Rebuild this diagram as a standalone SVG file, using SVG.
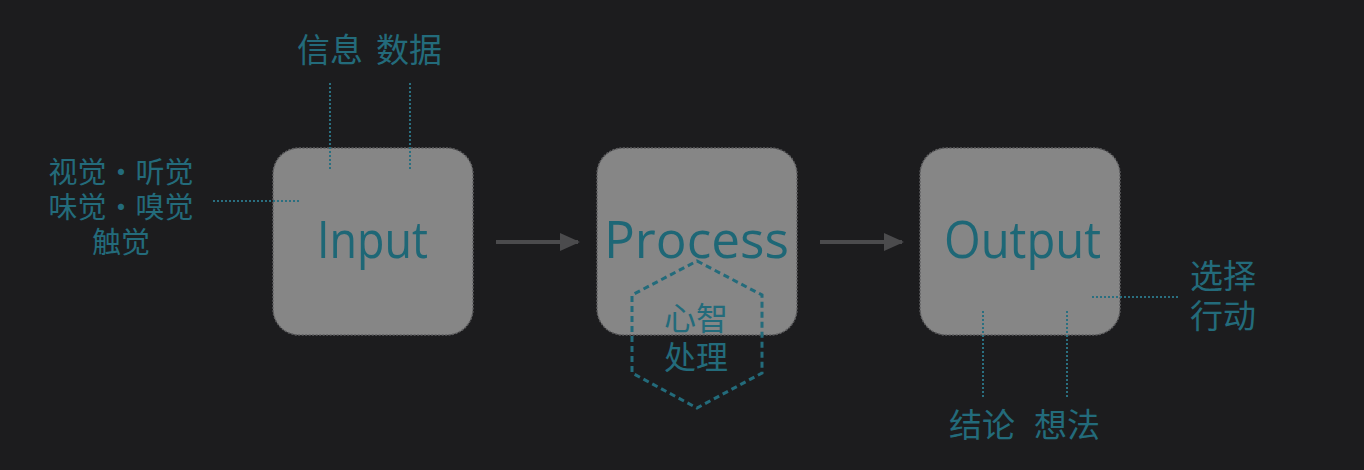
<svg xmlns="http://www.w3.org/2000/svg" width="1364" height="470" viewBox="0 0 1364 470">
<defs>
<style>
.box{fill:#868686;stroke:#5e5e60;stroke-width:1.5;stroke-dasharray:2 1.5}
.big{font-family:"Open Sans","Noto Sans",sans-serif;font-size:52px;font-weight:400;fill:#1e6776}
.cjk{font-family:"Noto Sans CJK SC",sans-serif;fill:#236b7b}
.m{text-anchor:middle}
.dot{stroke:#2a6f80;stroke-width:2;stroke-dasharray:2 2;fill:none}
.arr{stroke:#4b4b4d;stroke-width:4;fill:none}
</style>
<marker id="ah" markerWidth="20" markerHeight="20" refX="18" refY="10" orient="auto" markerUnits="userSpaceOnUse">
<path d="M0,1 L20,10 L0,19 Z" fill="#4b4b4d"/>
</marker>
</defs>
<rect width="1364" height="470" fill="#1c1c1e"/>
<g id="input">
<rect class="box" x="273" y="148" width="200" height="187" rx="26"/>
<text class="big" x="317" y="258" textLength="111" lengthAdjust="spacingAndGlyphs">Input</text>
</g>
<g id="process">
<rect class="box" x="597" y="148" width="200" height="187" rx="26"/>
<text class="big" x="604" y="258" textLength="185" lengthAdjust="spacingAndGlyphs">Process</text>
</g>
<g id="output">
<rect class="box" x="920" y="148" width="200" height="187" rx="26"/>
<text class="big" x="944" y="258" textLength="157" lengthAdjust="spacingAndGlyphs">Output</text>
</g>
<g id="mind">
<polygon points="697,261 762,295 762,373 697,408 632,373 632,295" fill="none" stroke="#236b7b" stroke-width="3" stroke-dasharray="6 4"/>
<text class="cjk m" font-size="32"><tspan x="696" y="330">心智</tspan><tspan x="696" y="369">处理</tspan></text>
</g>
<g id="labels">
<text class="cjk" x="297" y="62" font-size="33">信息</text>
<text class="cjk" x="376" y="62" font-size="33">数据</text>
<text class="cjk m" font-size="29"><tspan x="121" y="183">视觉・听觉</tspan><tspan x="121" y="218">味觉・嗅觉</tspan><tspan x="121" y="253">触觉</tspan></text>
<text class="cjk" font-size="33"><tspan x="1190" y="288">选择</tspan><tspan x="1190" y="328">行动</tspan></text>
<text class="cjk" x="949" y="437" font-size="33">结论</text>
<text class="cjk" x="1034" y="437" font-size="33">想法</text>
</g>
<g id="connectors">
<line class="arr" x1="496" y1="242" x2="578" y2="242" marker-end="url(#ah)"/>
<line class="arr" x1="820" y1="242" x2="902" y2="242" marker-end="url(#ah)"/>
<line class="dot" x1="330" y1="83" x2="330" y2="170"/>
<line class="dot" x1="410" y1="83" x2="410" y2="170"/>
<line class="dot" x1="213" y1="201" x2="301" y2="201"/>
<line class="dot" x1="983" y1="311" x2="983" y2="398"/>
<line class="dot" x1="1067" y1="311" x2="1067" y2="398"/>
<line class="dot" x1="1092" y1="297" x2="1180" y2="297"/>
</g>
</svg>
